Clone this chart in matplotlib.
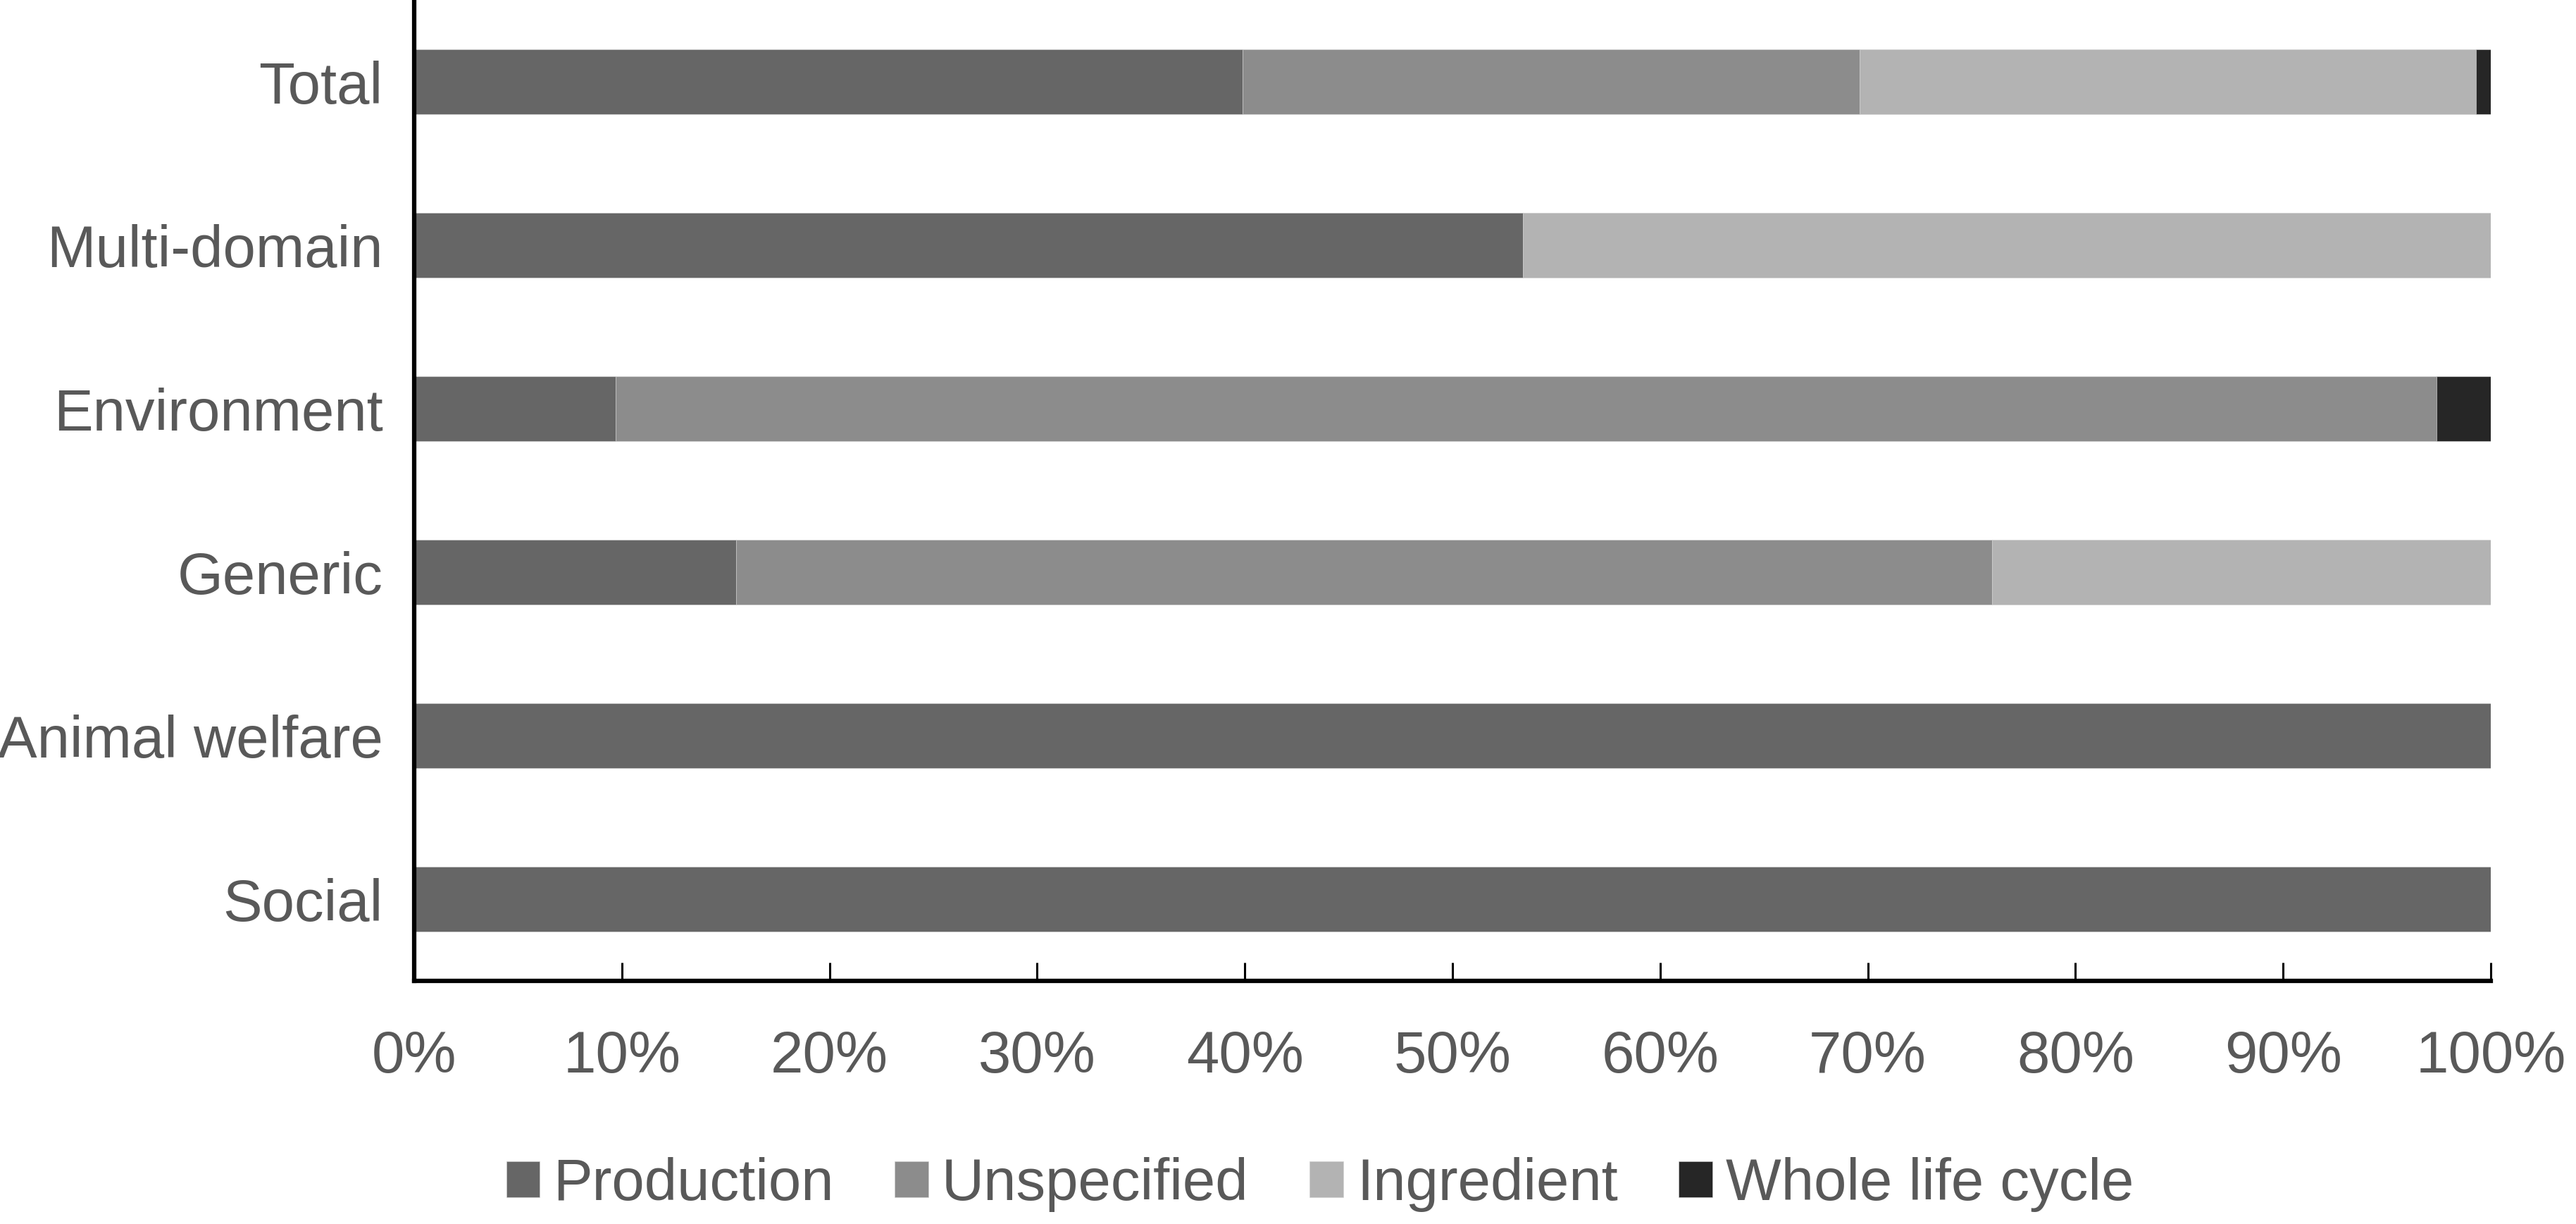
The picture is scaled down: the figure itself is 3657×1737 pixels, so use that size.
import matplotlib
matplotlib.use("Agg")
import matplotlib.pyplot as plt
import numpy as np

categories = ["Social", "Animal welfare", "Generic", "Environment", "Multi-domain", "Total"]
series_names = ["Production", "Unspecified", "Ingredient", "Whole life cycle"]
production = [100.0, 100.0, 15.5, 9.7, 53.4, 39.9]
unspecified = [0.0, 0.0, 60.5, 87.7, 0.0, 29.7]
ingredient = [0.0, 0.0, 24.0, 0.0, 46.6, 29.7]
whole_life = [0.0, 0.0, 0.0, 2.6, 0.0, 0.7]
x_ticks = [0, 10, 20, 30, 40, 50, 60, 70, 80, 90, 100]
x_tick_labels = [f"{v}%" for v in x_ticks]

colors = ["#666666", "#8c8c8c", "#b3b3b3", "#262626"]
text_color = "#595959"

plt.rcParams['font.family'] = ['Liberation Sans', 'DejaVu Sans']

W, H, DPI = 3657, 1737, 100
fig = plt.figure(figsize=(W / DPI, H / DPI), dpi=DPI)
ax = fig.add_axes([588 / W, 1 - 1392 / H, (3536 - 588) / W, 1392 / H])

y = np.arange(len(categories))
data = [production, unspecified, ingredient, whole_life]
left = np.zeros(len(categories))
for name, vals, c in zip(series_names, data, colors):
    vals = np.array(vals)
    ax.barh(y, vals, left=left, height=0.4, color=c, label=name,
            edgecolor="#d0d0d0", linewidth=0.4)
    left += vals

ax.set_xlim(0, 100)
ax.set_ylim(-0.5, 5.5)
ax.set_yticks(y)
ax.set_yticklabels(categories, fontsize=60, color=text_color)
ax.set_xticks(x_ticks)
ax.set_xticklabels(x_tick_labels, fontsize=60, color=text_color)
ax.tick_params(axis='y', length=0, pad=32)
ax.tick_params(axis='x', direction='in', length=19, width=2.2, color='black', pad=50)

for s in ["top", "right"]:
    ax.spines[s].set_visible(False)
for s in ["left", "bottom"]:
    ax.spines[s].set_linewidth(4.5)
    ax.spines[s].set_color("black")

handles, labels = ax.get_legend_handles_labels()
leg = fig.legend(handles, labels, loc="center", bbox_to_anchor=(1874 / W, 1 - 1681 / H),
                 ncol=4, frameon=False, fontsize=60, handlelength=0.57, handleheight=0.57,
                 handletextpad=0.23, columnspacing=1.04, borderaxespad=0)
for t in leg.get_texts():
    t.set_color(text_color)

fig.savefig("out.png", dpi=DPI)
